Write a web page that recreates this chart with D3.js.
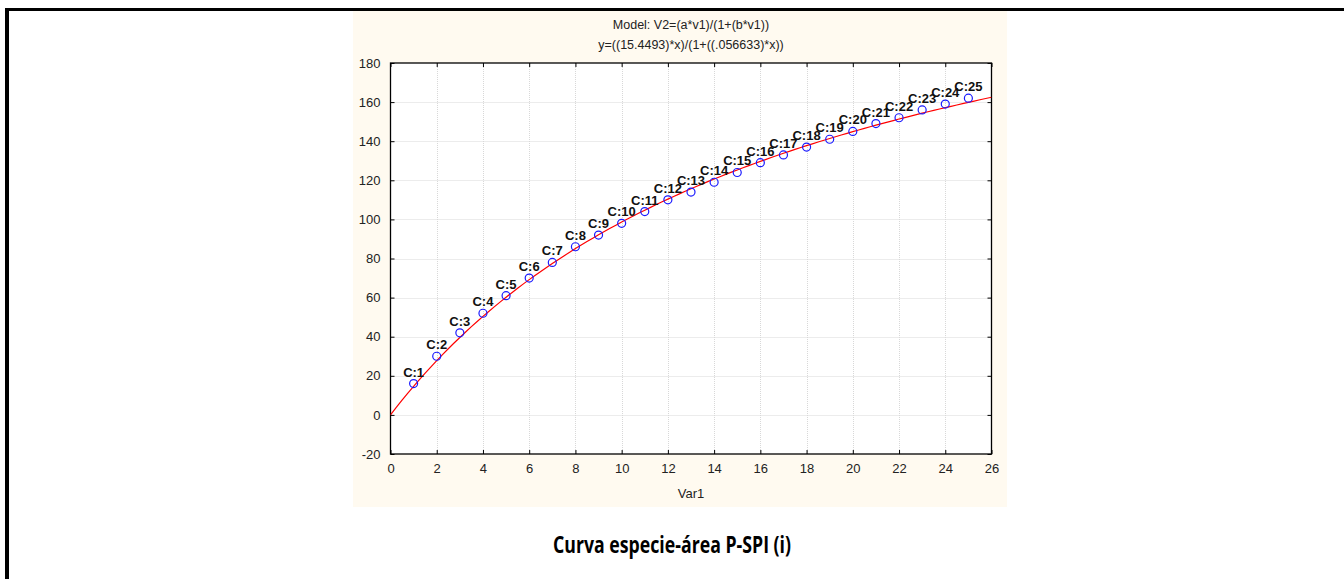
<!DOCTYPE html>
<html>
<head>
<meta charset="utf-8">
<script src="https://cdn.jsdelivr.net/npm/d3@7"></script>
<style>
  html, body { margin: 0; padding: 0; background: #fff; }
  svg { display: block; }
</style>
</head>
<body>
<svg id="chart" width="1344" height="579"></svg>
<script>
// observed species counts per sample
const samples = [1, 2, 3, 4, 5, 6, 7, 8, 9, 10, 11, 12, 13, 14, 15, 16, 17, 18, 19, 20, 21, 22, 23, 24, 25];
const species = [16, 30, 42, 52, 61, 70, 78, 86, 92, 98, 104, 110, 114, 119, 124, 129, 133, 137, 141, 145, 149, 152, 156, 159, 162];
const pointLabels = samples.map(s => `C:${s}`);
const xTicks = [0, 2, 4, 6, 8, 10, 12, 14, 16, 18, 20, 22, 24, 26];
const yTicks = [-20, 0, 20, 40, 60, 80, 100, 120, 140, 160, 180];
// fitted model parameters (from the chart title)
const fitA = 15.4493;
const fitB = 0.056633;
const fitXs = d3.range(0, 26.01, 0.25);

const svg = d3.select('#chart');

// page frame
svg.append('rect').attr('x', 5).attr('y', 8).attr('width', 1339).attr('height', 3).attr('fill', '#000');
svg.append('rect').attr('x', 5).attr('y', 8).attr('width', 4).attr('height', 571).attr('fill', '#000');

// chart panel
svg.append('rect')
  .attr('x', 353).attr('y', 11)
  .attr('width', 654).attr('height', 496)
  .attr('fill', '#fffaf0');

const margin = { left: 390.5, top: 63, right: 991.5, bottom: 454 };
const x = d3.scaleLinear().domain([0, 26]).range([margin.left, margin.right]);
const y = d3.scaleLinear().domain([-20, 180]).range([margin.bottom, margin.top]);

svg.append('rect')
  .attr('x', margin.left).attr('y', margin.top)
  .attr('width', margin.right - margin.left).attr('height', margin.bottom - margin.top)
  .attr('fill', '#fff');

// grid
const grid = svg.append('g').attr('stroke', '#d8d8d8').attr('stroke-dasharray', '1,1').attr('stroke-width', 1);
grid.selectAll('.gx').data(xTicks.slice(1, -1)).enter().append('line')
  .attr('x1', d => Math.round(x(d)) + 0.5).attr('x2', d => Math.round(x(d)) + 0.5)
  .attr('y1', margin.top).attr('y2', margin.bottom);
grid.selectAll('.gy').data(yTicks.slice(1, -1)).enter().append('line')
  .attr('y1', d => Math.round(y(d)) + 0.5).attr('y2', d => Math.round(y(d)) + 0.5)
  .attr('x1', margin.left).attr('x2', margin.right);

// axes, ticks pointing inward
const font = 'Liberation Sans, Arial, sans-serif';
const fmt = d => String(d);
const axisStyle = g => {
  g.select('.domain').remove();
  g.selectAll('line').attr('stroke', '#000');
  g.selectAll('text').attr('fill', '#222').style('font-family', font).style('font-size', '13px');
};
svg.append('g').attr('transform', `translate(0,${margin.bottom})`)
  .call(d3.axisBottom(x).tickValues(xTicks).tickFormat(fmt).tickSizeInner(-4).tickSizeOuter(0).tickPadding(10))
  .call(axisStyle);
svg.append('g').attr('transform', `translate(0,${margin.top})`)
  .call(d3.axisTop(x).tickValues(xTicks).tickSizeInner(-4).tickSizeOuter(0).tickFormat(''))
  .call(axisStyle);
svg.append('g').attr('transform', `translate(${margin.left},0)`)
  .call(d3.axisLeft(y).tickValues(yTicks).tickFormat(fmt).tickSizeInner(-4).tickSizeOuter(0).tickPadding(10))
  .call(axisStyle);
svg.append('g').attr('transform', `translate(${margin.right},0)`)
  .call(d3.axisRight(y).tickValues(yTicks).tickSizeInner(-4).tickSizeOuter(0).tickFormat(''))
  .call(axisStyle);

svg.append('rect')
  .attr('x', margin.left).attr('y', margin.top)
  .attr('width', margin.right - margin.left).attr('height', margin.bottom - margin.top)
  .attr('fill', 'none').attr('stroke', '#000').attr('stroke-width', 1.3);

// fitted curve
svg.append('clipPath').attr('id', 'plotclip').append('rect')
  .attr('x', margin.left).attr('y', margin.top)
  .attr('width', margin.right - margin.left).attr('height', margin.bottom - margin.top);
svg.append('path')
  .datum(fitXs.map(v => [v, (fitA * v) / (1 + fitB * v)]))
  .attr('clip-path', 'url(#plotclip)')
  .attr('fill', 'none')
  .attr('stroke', '#ff0000')
  .attr('stroke-width', 1.2)
  .attr('d', d3.line().x(d => x(d[0])).y(d => y(d[1])));

// points
const pts = samples.map((s, i) => ({ x: s, y: species[i], label: pointLabels[i] }));
svg.append('g').selectAll('circle').data(pts).enter().append('circle')
  .attr('cx', d => x(d.x)).attr('cy', d => y(d.y)).attr('r', 4)
  .attr('fill', 'none').attr('stroke', '#1a1aff').attr('stroke-width', 1.2);
svg.append('g').selectAll('text').data(pts).enter().append('text')
  .attr('x', d => x(d.x)).attr('y', d => y(d.y) - 7)
  .attr('text-anchor', 'middle')
  .style('font-family', font).style('font-size', '13px').style('font-weight', 'bold')
  .attr('fill', '#111')
  .text(d => d.label);

// titles
const cx = (margin.left + margin.right) / 2;
svg.append('text').attr('x', cx).attr('y', 29).attr('text-anchor', 'middle')
  .style('font-family', font).style('font-size', '12.5px').attr('fill', '#222')
  .text('Model: V2=(a*v1)/(1+(b*v1))');
svg.append('text').attr('x', cx).attr('y', 49).attr('text-anchor', 'middle')
  .style('font-family', font).style('font-size', '12.5px').attr('fill', '#222')
  .text('y=((15.4493)*x)/(1+((.056633)*x))');
svg.append('text').attr('x', cx).attr('y', 498).attr('text-anchor', 'middle')
  .style('font-family', font).style('font-size', '13px').attr('fill', '#222')
  .text('Var1');

// caption
svg.append('text').attr('x', 672).attr('y', 553).attr('text-anchor', 'middle')
  .style('font-family', 'Open Sans, sans-serif').style('font-size', '23px').style('font-weight', 'bold')
  .attr('textLength', 238).attr('lengthAdjust', 'spacingAndGlyphs')
  .attr('fill', '#000')
  .text('Curva especie-área P-SPI (i)');
</script>
</body>
</html>
